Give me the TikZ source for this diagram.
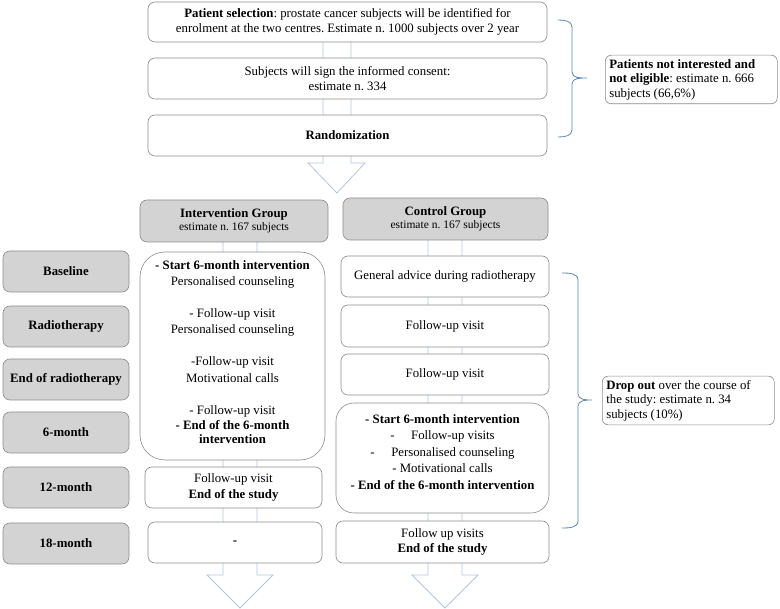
\documentclass[tikz,border=0pt]{standalone}
\usepackage{fontspec}
\setmainfont{Liberation Serif}
\frenchspacing
\definecolor{boxline}{RGB}{140,140,140}
\definecolor{boxgray}{RGB}{211,211,211}
\definecolor{arrowblue}{RGB}{178,198,226}
\definecolor{braceblue}{RGB}{95,130,185}
\tikzset{
  base/.style={draw=boxline, line width=0.6pt, rounded corners=7pt, align=center, inner sep=2pt,
    font=\fontsize{12.8}{15.5}\selectfont\frenchspacing},
  wbox/.style={base, fill=white},
  gbox/.style={base, fill=boxgray},
  note/.style={base, fill=white, align=flush left, rounded corners=6pt, inner sep=4pt, text width=164pt,
    font=\fontsize{12.8}{14.5}\selectfont\frenchspacing},
  bigarrow/.style={draw=arrowblue, line width=0.8pt, fill=white},
  brace/.style={draw=braceblue, line width=0.8pt},
}
\begin{document}
\begin{tikzpicture}[x=1pt,y=-1pt]
\useasboundingbox (0,0) rectangle (780,609);
% big hollow arrows
\draw[bigarrow] (323,30) -- (323,163) -- (308,163) -- (337,193) -- (365,163) -- (351,163) -- (351,30);
\draw[bigarrow] (223,230) -- (223,575) -- (207,575) -- (240,608) -- (273,575) -- (257,575) -- (257,230);
\draw[bigarrow] (428,230) -- (428,575) -- (412,575) -- (445,608) -- (478,575) -- (462,575) -- (462,230);
% top boxes
\node[wbox, minimum width=399pt, minimum height=40pt] (sel) at (347.5,22)
  {\textbf{Patient selection}: prostate cancer subjects will be identified for\\enrolment at the two centres. Estimate n. 1000 subjects over 2 year};
\node[wbox, minimum width=399pt, minimum height=41pt] (cons) at (347.5,78.5)
  {Subjects will sign the informed consent:\\estimate n. 334};
\node[wbox, minimum width=399pt, minimum height=41pt] (rand) at (347.5,135.5)
  {\textbf{Randomization}};
% brace 1
\coordinate (b1t) at (558,20);
\coordinate (b1b) at (558,137);
\coordinate (b1m) at (587,78);
\draw[brace] (b1t) to[out=0,in=90] (572,27) -- (572,72) to[out=-90,in=180] (b1m)
  to[out=180,in=90] (572,84) -- (572,130) to[out=-90,in=0] (b1b);
\node[note, minimum height=47pt, anchor=west] (notint) at (605,79.5)
  {\textbf{Patients not interested and}\\\textbf{not eligible}: estimate n. 666\\subjects (66,6\%)};
% group boxes
\node[gbox, minimum width=188pt, minimum height=42pt] (ig) at (234,221)
  {\textbf{Intervention Group}\\[-2pt]{\fontsize{11.5}{12}\selectfont estimate n. 167 subjects}};
\node[gbox, minimum width=205pt, minimum height=42pt] (cg) at (445.5,219)
  {\textbf{Control Group}\\[-2pt]{\fontsize{11.5}{12}\selectfont estimate n. 167 subjects}};
% left labels
\foreach \y/\t/\n in {271.5/Baseline/l1, 326.5/Radiotherapy/l2, 379.5/End of radiotherapy/l3, 432.5/6-month/l4, 487.5/12-month/l5, 543.5/18-month/l6}
  \node[gbox, minimum width=126pt, minimum height=41pt] (\n) at (66,\y) {\textbf{\t}};
% intervention column
\node[wbox, rounded corners=25pt, minimum width=185pt, minimum height=208pt] (ibig) at (232.5,356) {};
\node[align=center, font=\fontsize{12.8}{16.2}\selectfont] (itext) at (232.5,352)
  {\textbf{- Start 6-month intervention}\\Personalised counseling\\[16pt]- Follow-up visit\\Personalised counseling\\[16pt]-Follow-up visit\\Motivational calls\\[16pt]- Follow-up visit\\[-1pt]\textbf{- End of the 6-month}\\[-2pt]\textbf{intervention}};
\node[wbox, minimum width=177pt, minimum height=41pt] (i12) at (233.5,487.5)
  {Follow-up visit\\\textbf{End of the study}};
\node[wbox, minimum width=174pt, minimum height=41pt] (i18) at (235,542.5) {\textbf{-}};
% control column
\node[wbox, minimum width=208pt, minimum height=41pt] (c1) at (445,276.5) {General advice during radiotherapy};
\node[wbox, minimum width=208pt, minimum height=42pt] (c2) at (445,326) {Follow-up visit};
\node[wbox, minimum width=208pt, minimum height=41pt] (c3) at (445,374.5) {Follow-up visit};
\node[wbox, rounded corners=18pt, minimum width=213pt, minimum height=110pt] (cbig) at (442.5,458) {};
\node[align=center, font=\fontsize{12.8}{16.5}\selectfont] (ctext) at (442.5,452)
  {\textbf{- Start 6-month intervention}\\-\hspace{1.3em}Follow-up visits\\-\hspace{1.3em}Personalised counseling\\- Motivational calls\\\textbf{- End of the 6-month intervention}};
\node[wbox, minimum width=213pt, minimum height=42pt] (c18) at (442.5,542)
  {Follow up visits\\\textbf{End of the study}};
% brace 2
\coordinate (b2t) at (562,273);
\coordinate (b2b) at (562,528);
\coordinate (b2m) at (592,400);
\draw[brace] (b2t) to[out=0,in=90] (578,280) -- (578,394) to[out=-90,in=180] (b2m)
  to[out=180,in=90] (578,406) -- (578,521) to[out=-90,in=0] (b2b);
\node[note, minimum height=47pt, anchor=west] (drop) at (602,400.5)
  {\textbf{Drop out} over the course of\\the study: estimate n. 34\\subjects (10\%)};
\end{tikzpicture}
\end{document}
